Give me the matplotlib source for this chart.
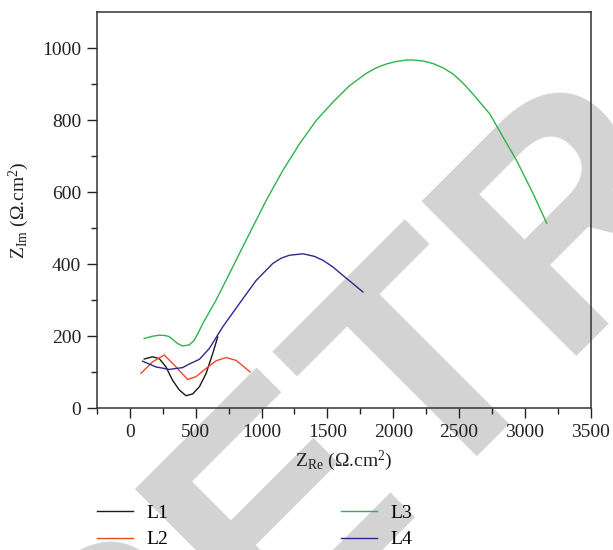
import matplotlib
matplotlib.use("Agg")
import matplotlib.pyplot as plt

## Nyquist data (Z_Re, Z_Im in ohm.cm2)
l1_re = [109, 172, 223, 274, 324, 375, 426, 477, 528, 579, 629, 667]
l1_im = [137, 143, 138, 115, 78, 51, 35, 40, 60, 97, 152, 198]

l2_re = [84, 172, 261, 350, 439, 503, 579, 655, 731, 807, 913]
l2_im = [97, 129, 148, 115, 80, 88, 111, 132, 141, 133, 101]

l3_re = [109, 170, 223, 270, 299, 362, 400, 451, 489, 528, 553, 654, 756, 857, 959, 1035,
         1161, 1288, 1415, 1542, 1669, 1796, 1870, 1948, 2025, 2100, 2151, 2230, 2303,
         2380, 2455, 2530, 2607, 2734, 2836, 2937, 3064, 3166]
l3_im = [194, 200, 203, 202, 199, 180, 173, 176, 189, 216, 235, 300, 374, 448, 522, 577,
         660, 734, 799, 850, 896, 930, 945, 956, 963, 967, 967, 964, 957,
         945, 928, 903, 872, 817, 752, 688, 595, 514]

l4_re = [96, 197, 299, 400, 451, 528, 603, 705, 832, 959, 1085, 1150, 1212, 1314, 1400,
         1466, 1540, 1618, 1770]
l4_im = [131, 115, 108, 113, 123, 136, 166, 226, 291, 355, 402, 417, 425, 429, 422,
         411, 393, 369, 323]

labels = ["L1", "L2", "L3", "L4"]
colors = ["#1a1a1a", "#f0482a", "#2fb34c", "#2e2a8c"]

plt.rcParams["font.family"] = "Liberation Serif"
plt.rcParams["mathtext.fontset"] = "custom"
plt.rcParams["mathtext.rm"] = "Liberation Serif"
plt.rcParams["mathtext.it"] = "Liberation Serif:italic"

fig = plt.figure(figsize=(6.13, 5.5), dpi=100)
ax = fig.add_axes([0.1582, 0.2576, 0.8054, 0.7204])
ax.set_facecolor("none")

## watermark behind everything
fig.text(0.174, -0.464, "RETRACTED", rotation=45, rotation_mode="anchor",
         ha="left", va="baseline", fontsize=229, fontweight="bold",
         family="Liberation Sans", color="#d3d3d3", zorder=-1)

series = [(l1_re, l1_im), (l2_re, l2_im), (l3_re, l3_im), (l4_re, l4_im)]
handles = []
for (xs, ys), lab, c in zip(series, labels, colors):
    h, = ax.plot(xs, ys, color=c, lw=1.0, label=lab)
    handles.append(h)

ax.set_xlim(-250, 3500)
ax.set_ylim(0, 1100)
ax.set_xticks([0, 500, 1000, 1500, 2000, 2500, 3000, 3500])
ax.set_xticks(range(-250, 3500, 250), minor=True)
ax.set_yticks([0, 200, 400, 600, 800, 1000])
ax.set_yticks(range(0, 1100, 100), minor=True)
ax.tick_params(which="major", length=7.5, width=1.0, direction="out", labelsize=14,
               colors="#222222", pad=4)
ax.tick_params(which="minor", length=4, width=1.0, direction="out", colors="#222222")
for s in ax.spines.values():
    s.set_color("#333333")
    s.set_linewidth(1.1)

ax.set_xlabel(r"Z$_{\mathrm{Re}}$ (Ω.cm$^{2}$)", fontsize=14, color="#222222", labelpad=5)
ax.set_ylabel(r"Z$_{\mathrm{Im}}$ (Ω.cm$^{2}$)", fontsize=14, color="#222222", labelpad=8)

fig.legend(handles=handles, labels=labels, ncol=2, frameon=False, fontsize=14,
           loc="upper left", bbox_to_anchor=(0.145, 0.097), handlelength=1.85,
           handletextpad=0.7, columnspacing=8.9, labelspacing=0.45, borderaxespad=0)

fig.savefig("out.png", dpi=100)
